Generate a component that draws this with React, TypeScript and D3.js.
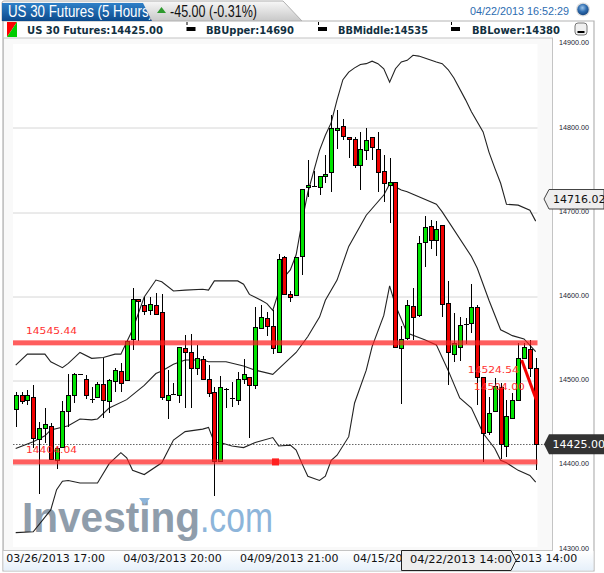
import React from "react";
import * as d3 from "d3";

const opens = [14467,14484,14477,14481,14431,14444,14447,14406,14422,14465,14483,14509,14502,14479,14481,14496,14476,14500,14512,14501,14550,14597,14590,14584,14590,14582,14478,14485,14484,14539,14534,14515,14526,14502,14487,14405,14491,14480,14478,14502,14505,14495,14563,14575,14565,14534,14647,14603,14602,14648,14730,14732,14731,14743,14748,14799,14803,14790,14788,14757,14775,14790,14776,14749,14733,14737,14539,14551,14589,14578,14665,14684,14667,14685,14593,14532,14541,14568,14569,14588,14505,14439,14464,14493,14423,14456,14478,14528,14538,14515];
const closes = [14483,14476,14483,14432,14444,14449,14407,14421,14464,14484,14509,14509,14483,14479,14496,14478,14501,14513,14498,14548,14597,14595,14583,14591,14580,14481,14483,14485,14540,14534,14515,14527,14502,14486,14405,14493,14491,14480,14502,14508,14495,14564,14576,14566,14539,14645,14603,14600,14647,14728,14733,14732,14743,14746,14800,14801,14791,14787,14757,14776,14786,14778,14748,14735,14737,14540,14550,14590,14576,14664,14683,14668,14681,14592,14534,14545,14567,14568,14588,14505,14438,14462,14494,14425,14458,14477,14528,14540,14516,14425];
const highs = [14487,14487,14489,14495,14452,14468,14450,14422,14476,14509,14510,14509,14507,14493,14499,14528,14503,14516,14521,14549,14610,14598,14600,14600,14605,14604,14513,14498,14541,14555,14556,14543,14530,14519,14493,14506,14492,14499,14511,14526,14505,14588,14590,14582,14584,14651,14648,14607,14647,14728,14763,14749,14743,14768,14816,14822,14811,14790,14790,14796,14801,14790,14796,14769,14765,14737,14565,14596,14610,14672,14696,14691,14690,14685,14619,14581,14576,14575,14615,14590,14505,14481,14504,14498,14478,14486,14545,14545,14549,14528];
const lows = [14445,14473,14472,14420,14366,14426,14406,14396,14422,14446,14474,14509,14479,14474,14480,14456,14462,14487,14487,14500,14537,14548,14579,14579,14579,14477,14455,14485,14474,14468,14468,14507,14501,14481,14363,14405,14468,14469,14472,14497,14433,14491,14563,14554,14532,14534,14602,14594,14602,14626,14719,14731,14721,14735,14724,14776,14786,14765,14753,14727,14763,14763,14724,14713,14688,14540,14473,14549,14549,14576,14636,14657,14649,14576,14495,14523,14524,14544,14557,14472,14404,14436,14464,14408,14410,14456,14478,14528,14505,14395];

const upperIdx = [0,2,5,6,8,9,11,13,15,17,18,20,22,24,25,27,29,32,33,34,38,39,40,42,43,44,45,46,47,48,49,50,51,52,53,54,55,56,57,58,59,60,61,62,63,64,65,66,67,68,69,72,73,74,75,77,78,80,81,82,83,84,86,88,89];
const upperVal = [14519,14532,14532,14523,14516,14521,14534,14527,14528,14532,14532,14561,14600,14620,14618,14607,14608,14609,14608,14619,14619,14615,14603,14596,14592,14584,14606,14624,14632,14650,14689,14724,14749,14774,14792,14807,14834,14858,14867,14872,14876,14877,14880,14877,14871,14855,14871,14879,14881,14887,14886,14879,14877,14870,14860,14834,14820,14796,14772,14753,14735,14710,14709,14703,14690];
const middleIdx = [0,3,5,6,9,11,13,14,16,19,22,24,25,27,29,32,33,36,39,41,44,46,48,50,52,53,55,57,60,63,64,66,67,72,73,78,79,81,83,85,87,89];
const middleVal = [14420,14428,14435,14442,14447,14455,14454,14455,14468,14478,14495,14509,14512,14520,14525,14525,14523,14523,14518,14513,14508,14521,14534,14553,14576,14596,14620,14660,14697,14721,14734,14727,14725,14710,14701,14648,14634,14596,14561,14554,14550,14535];
const lowerIdx = [0,3,6,7,8,9,11,14,16,18,19,20,22,25,27,29,32,33,34,35,37,39,41,44,45,47,48,49,50,52,53,54,55,57,58,60,61,63,64,65,67,70,72,74,76,78,80,82,83,84,86,88,89];
const lowerVal = [14320,14321,14347,14371,14381,14382,14379,14379,14402,14415,14409,14394,14389,14403,14430,14440,14443,14445,14427,14427,14423,14421,14427,14433,14423,14424,14418,14402,14387,14382,14387,14406,14412,14434,14474,14513,14541,14578,14613,14590,14557,14549,14543,14513,14480,14468,14438,14420,14406,14403,14394,14388,14380];

const priceTicks = [14900, 14800, 14700, 14600, 14500, 14400, 14300];
const gridTicks = [14800, 14700, 14600, 14500, 14400];
const dateLabels = ["03/26/2013 17:00", "04/03/2013 20:00", "04/09/2013 21:00", "04/15/20", "04/19/2013 14:00"];
const dateIdx = [7, 27, 47, 67, 87];
const levelValues = [14545.44, 14404.04];
const fibLabels = ["14524.54", "14504.00"];
const fibValues = [14524.54, 14504.0];
const fibIdx = [88, 88];
const arrowIdx = [86.6, 89.1];
const arrowVal = [14525, 14478];
const lastClose = 14425;
const crossPrice = 14716.02;

const UI = "'Liberation Sans', Arial, sans-serif";
const DJ = "'DejaVu Sans', Verdana, sans-serif";

const x = d3.scaleLinear().domain([0, 89]).range([15.7, 535.7]);
const y = d3.scaleLinear().domain([14300, 14900]).range([549.5, 44.3]);

function band(idx: number[], val: number[]) {
  const pts = idx.map((d, i) => [d, val[i]] as [number, number]);
  return d3.line<[number, number]>().x((d) => x(d[0])).y((d) => y(d[1]))(pts) as string;
}

const crisp = (v: number) => Math.round(v) + 0.5;

export default function App() {
  return (
    <svg width={604} height={573} style={{ position: "absolute", left: 0, top: 0, display: "block" }}>
      <defs>
        <linearGradient id="blueTab" x1="0" x2="0" y1="0" y2="1">
          <stop offset="0" stopColor="#2f80c8" />
          <stop offset="1" stopColor="#0c4a8c" />
        </linearGradient>
        <linearGradient id="greyTab" x1="0" x2="0" y1="0" y2="1">
          <stop offset="0" stopColor="#f8f8f8" />
          <stop offset="1" stopColor="#c8c8c8" />
        </linearGradient>
        <linearGradient id="axisStrip" x1="0" x2="0" y1="0" y2="1">
          <stop offset="0" stopColor="#ffffff" />
          <stop offset="1" stopColor="#e6f0fa" />
        </linearGradient>
        <radialGradient id="globe" cx="0.45" cy="0.35" r="0.7">
          <stop offset="0" stopColor="#9cc4ea" />
          <stop offset="0.5" stopColor="#2f6db0" />
          <stop offset="1" stopColor="#123f78" />
        </radialGradient>
        <clipPath id="blueClip">
          <path d="M2,3 L143,3 L152,21 L2,21 Z" />
        </clipPath>
      </defs>
      <rect width={604} height={573} fill="#fff" />

      {/* tabs */}
      <path d="M2,21 L2,3 Q2,1 4,1 L283,1 L302,21 Z" fill="url(#greyTab)" stroke="#b0b0b0" />
      <path d="M2,3 L143,3 L152,21 L2,21 Z" fill="url(#blueTab)" />
      <text x={8} y={17} fill="#fff" fontFamily={UI} fontSize={16} textLength={145} lengthAdjust="spacingAndGlyphs" clipPath="url(#blueClip)">US 30 Futures (5 Hours)</text>
      <path d="M157,13 L161.5,7 L166,13 Z" fill="#2e9a2e" />
      <text x={170} y={17} fill="#111" fontFamily={UI} fontSize={16} textLength={87} lengthAdjust="spacingAndGlyphs">-45.00 (-0.31%)</text>
      <text x={470} y={15} fill="#2c6cb0" fontFamily={UI} fontSize={11.5} textLength={99} lengthAdjust="spacingAndGlyphs">04/22/2013 16:52:29</text>
      <circle cx={583} cy={9.5} r={7} fill="#ddd" />
      <circle cx={583} cy={9.5} r={5.7} fill="url(#globe)" />

      {/* frame */}
      <path d="M3,21 L3,571 L594,571 L594,21 L302,21" fill="none" stroke="#b4b4b4" strokeWidth={1.2} />
      <rect x={3.5} y={551} width={590} height={19.5} fill="url(#axisStrip)" />
      <rect x={3.5} y={38} width={549} height={512.5} fill="#f9f9f9" stroke="#c4c4c4" />
      <rect x={13} y={44} width={524.5} height={503} fill="#fff" />

      {/* legend */}
      <path d="M7,22 L17,22 L7,37 Z" fill="#f00" />
      <path d="M17,22 L17,37 L7,37 Z" fill="#0c0" />
      <text x={27} y={33.5} fill="#12303f" fontFamily={DJ} fontWeight="bold" fontSize={10} textLength={136} lengthAdjust="spacingAndGlyphs">US 30 Futures:14425.00</text>
      {[186.5, 318, 451].map((px) => (
        <g key={px}>
          <rect x={px} y={22} width={1} height={3} fill="#000" />
          <rect x={px} y={27} width={9} height={4} fill="#000" />
        </g>
      ))}
      <text x={206} y={33.5} fill="#12303f" fontFamily={DJ} fontWeight="bold" fontSize={10} textLength={88} lengthAdjust="spacingAndGlyphs">BBUpper:14690</text>
      <text x={338} y={33.5} fill="#12303f" fontFamily={DJ} fontWeight="bold" fontSize={10} textLength={90} lengthAdjust="spacingAndGlyphs">BBMiddle:14535</text>
      <text x={472} y={33.5} fill="#12303f" fontFamily={DJ} fontWeight="bold" fontSize={10} textLength={88} lengthAdjust="spacingAndGlyphs">BBLower:14380</text>
      <rect x={575} y={23} width={12} height={12} rx={3} fill="#f0f0f0" stroke="#777" />
      <rect x={577.5} y={31} width={7} height={2} fill="#000" />

      {/* logo */}
      <text x={22} y={532} fill="#8f9dab" fontFamily={UI} fontWeight="bold" fontSize={43} textLength={178} lengthAdjust="spacingAndGlyphs">Investing</text>
      <text x={200} y={532} fill="#8db5da" fontFamily={UI} fontSize={43} textLength={73} lengthAdjust="spacingAndGlyphs">.com</text>
      <path d="M139,498 L150,498 L144.5,505 Z" fill="#8db5da" />

      {/* grid */}
      {gridTicks.map((t) => (
        <line key={t} x1={13} x2={537.5} y1={crisp(y(t)) - 0.5} y2={crisp(y(t)) - 0.5} stroke="#d6d6d6" strokeWidth={1} />
      ))}
      {priceTicks.map((t) => (
        <text key={t} x={559} y={y(t) + 1} fill="#223" fontFamily={UI} fontSize={8} textLength={30} lengthAdjust="spacingAndGlyphs">{t.toFixed(2)}</text>
      ))}
      <line x1={13} x2={544} y1={crisp(y(lastClose))} y2={crisp(y(lastClose))} stroke="#666" strokeWidth={1} strokeDasharray="1.5,1.5" />

      {/* bands */}
      {[band(upperIdx, upperVal), band(middleIdx, middleVal), band(lowerIdx, lowerVal)].map((d, i) => (
        <path key={i} d={d} fill="none" stroke="#222" strokeWidth={1.1} />
      ))}

      {/* candles */}
      {opens.map((o, i) => {
        const c = closes[i];
        const up = c > o;
        const flat = Math.abs(c - o) < 1;
        const top = crisp(y(Math.max(o, c)));
        const bot = crisp(y(Math.min(o, c)));
        const cx = crisp(x(i));
        return (
          <g key={i}>
            <line x1={cx} x2={cx} y1={Math.round(y(highs[i]))} y2={Math.round(y(lows[i]))} stroke="#000" strokeWidth={1} />
            {flat ? (
              <line x1={cx - 2.5} x2={cx + 2.5} y1={top} y2={top} stroke="#000" strokeWidth={1} />
            ) : (
              <rect x={cx - 2} y={top} width={4} height={Math.max(bot - top, 2)} fill={up ? "#00e400" : "#f00000"} stroke="#000" strokeWidth={1} />
            )}
          </g>
        );
      })}

      {/* level lines */}
      {levelValues.map((v) => (
        <g key={v}>
          <rect x={13} width={524.5} y={y(v) - 2.5} height={5} fill="#ff2020" opacity={0.72} />
          <text x={26} y={y(v) - 9} fill="#ff3030" fontFamily={DJ} fontSize={9.5} textLength={51} lengthAdjust="spacingAndGlyphs">{v.toFixed(2)}</text>
        </g>
      ))}
      <rect x={272} y={y(levelValues[1]) - 3.5} width={7} height={7} fill="#ff2020" />
      <line x1={x(arrowIdx[0])} x2={x(arrowIdx[1])} y1={y(arrowVal[0])} y2={y(arrowVal[1])} stroke="#f40000" strokeWidth={3} />
      {fibLabels.map((t, i) => (
        <text key={t} x={x(fibIdx[i]) - 62 + i * 6} y={y(fibValues[i]) + 13 + i * -1} fill="#ff3030" fontFamily={DJ} fontSize={9.5} textLength={51} lengthAdjust="spacingAndGlyphs">{t}</text>
      ))}

      {/* date axis */}
      <text x={x(dateIdx[0]) - 1} y={562} textAnchor="middle" fill="#111" fontFamily={DJ} fontSize={11}>{dateLabels[0]}</text>
      <text x={x(dateIdx[1]) - 1} y={562} textAnchor="middle" fill="#111" fontFamily={DJ} fontSize={11}>{dateLabels[1]}</text>
      <text x={x(dateIdx[2]) - 1} y={562} textAnchor="middle" fill="#111" fontFamily={DJ} fontSize={11}>{dateLabels[2]}</text>
      <text x={353} y={562} fill="#111" fontFamily={DJ} fontSize={11}>{dateLabels[3]}</text>
      <text x={x(dateIdx[4]) + 4} y={562} textAnchor="middle" fill="#111" fontFamily={DJ} fontSize={11}>{dateLabels[4]}</text>
      <path d="M401.5,550.5 L511,550.5 L516,560.5 L511,570.5 L401.5,570.5 Z" fill="#eeeeee" stroke="#222" strokeWidth={1} />
      <text x={410} y={563} fill="#111" fontFamily={DJ} fontSize={10.5} textLength={102} lengthAdjust="spacingAndGlyphs">04/22/2013 14:00</text>

      {/* price tags */}
      <path d="M544,199 L549,189.5 L604,189.5 L604,209 L549,209 Z" fill="#eeeeee" stroke="#444" />
      <text x={553} y={203} fill="#111" fontFamily={DJ} fontSize={11}>{crossPrice.toFixed(2)}</text>
      <path d={`M544,${y(lastClose)} L549,${y(lastClose) - 10} L604,${y(lastClose) - 10} L604,${y(lastClose) + 10} L549,${y(lastClose) + 10} Z`} fill="#333" />
      <text x={552.5} y={y(lastClose) + 4} fill="#fff" fontFamily={DJ} fontSize={11}>{lastClose.toFixed(2)}</text>
    </svg>
  );
}
